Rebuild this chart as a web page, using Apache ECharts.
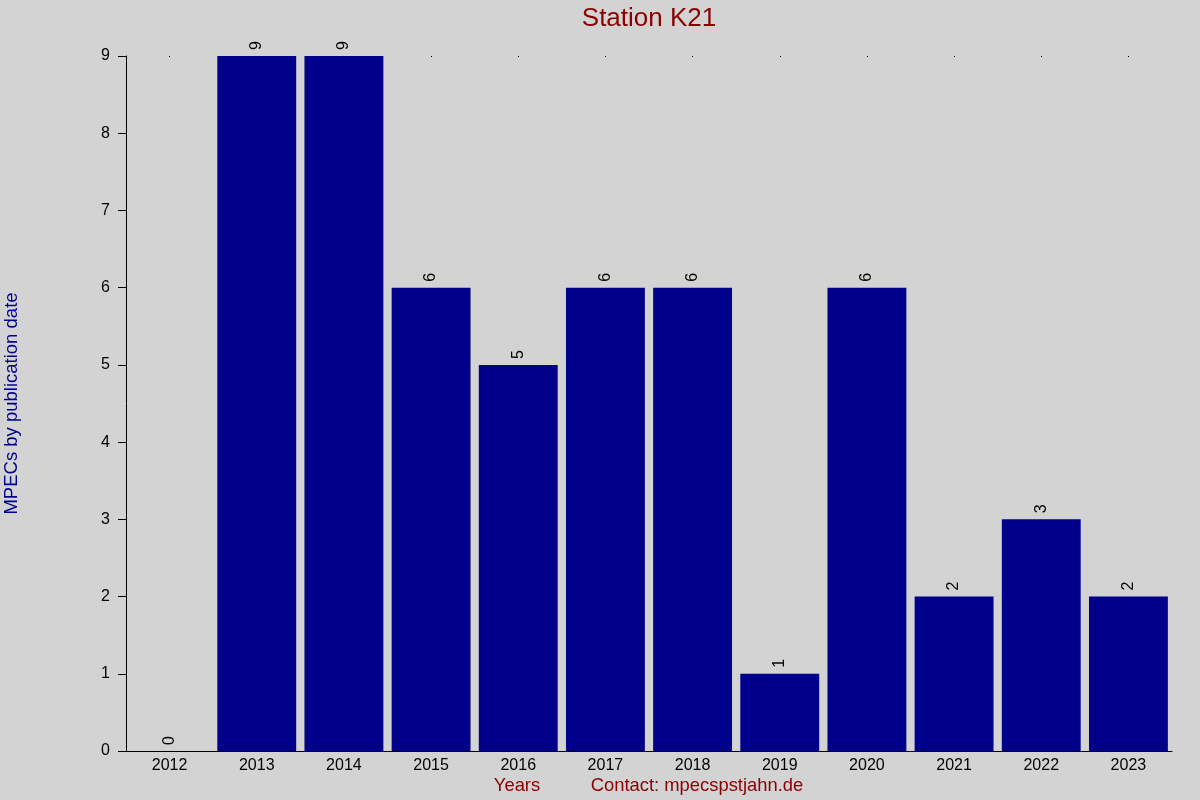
<!DOCTYPE html>
<html><head><meta charset="utf-8">
<script src="https://cdn.jsdelivr.net/npm/echarts@6/dist/echarts.min.js"></script>
<style>html,body{margin:0;padding:0;background:#d3d3d3}#c{width:1200px;height:800px}</style>
</head><body><div id="c"></div>
<script>
const years = ['2012','2013','2014','2015','2016','2017','2018','2019','2020','2021','2022','2023'];
const counts = [0,9,9,6,5,6,6,1,6,2,3,2];
const yTicks = [0,1,2,3,4,5,6,7,8,9];

const FONT = '"Liberation Sans", Arial, sans-serif';
const chart = echarts.init(document.getElementById('c'));
chart.setOption({
  backgroundColor: '#d3d3d3',
  animation: false,
  textStyle: {fontFamily: FONT},
  grid: {left: 126, right: 28, top: 56, bottom: 49, containLabel: false, outerBoundsMode: 'none'},
  xAxis: [{
    type: 'category', data: years,
    axisLine: {show: true, lineStyle: {color: '#000', width: 1}},
    axisTick: {show: false},
    axisLabel: {color: '#000', fontSize: 16, margin: 7, fontFamily: FONT},
    splitLine: {show: false}
  }, {
    type: 'category', data: years, position: 'top',
    axisLine: {show: false},
    axisTick: {show: true, alignWithLabel: true, inside: true, length: 1, lineStyle: {color: '#000'}},
    axisLabel: {show: false}
  }],
  yAxis: {
    type: 'value', min: 0, max: 9, interval: 1,
    name: 'MPECs by publication date', nameLocation: 'middle', nameGap: 105, nameRotate: 90,
    nameTextStyle: {color: '#00008b', fontSize: 18.5, fontFamily: FONT},
    axisLine: {show: true, lineStyle: {color: '#000', width: 1}},
    axisTick: {show: true, length: 8, lineStyle: {color: '#000'}},
    axisLabel: {color: '#000', fontSize: 16, margin: 16, fontFamily: FONT},
    splitLine: {show: false}
  },
  series: [{
    type: 'bar', data: counts, barCategoryGap: '9.5%',
    itemStyle: {color: '#00008b'},
    label: {show: true, position: 'top', rotate: 90, distance: 6, color: '#000', fontSize: 16, fontFamily: FONT, align: 'left', verticalAlign: 'middle'}
  }],
  graphic: [
    {type: 'text', x: 649, y: 19, style: {text: 'Station K21', fill: '#8b0000', font: '26px ' + FONT, textAlign: 'center', textVerticalAlign: 'middle'}},
    {type: 'text', x: 517, y: 786, style: {text: 'Years', fill: '#8b0000', font: '18.4px ' + FONT, textAlign: 'center', textVerticalAlign: 'middle'}},
    {type: 'text', x: 697, y: 786, style: {text: 'Contact: mpecspstjahn.de', fill: '#8b0000', font: '18.4px ' + FONT, textAlign: 'center', textVerticalAlign: 'middle'}}
  ]
});
</script></body></html>
